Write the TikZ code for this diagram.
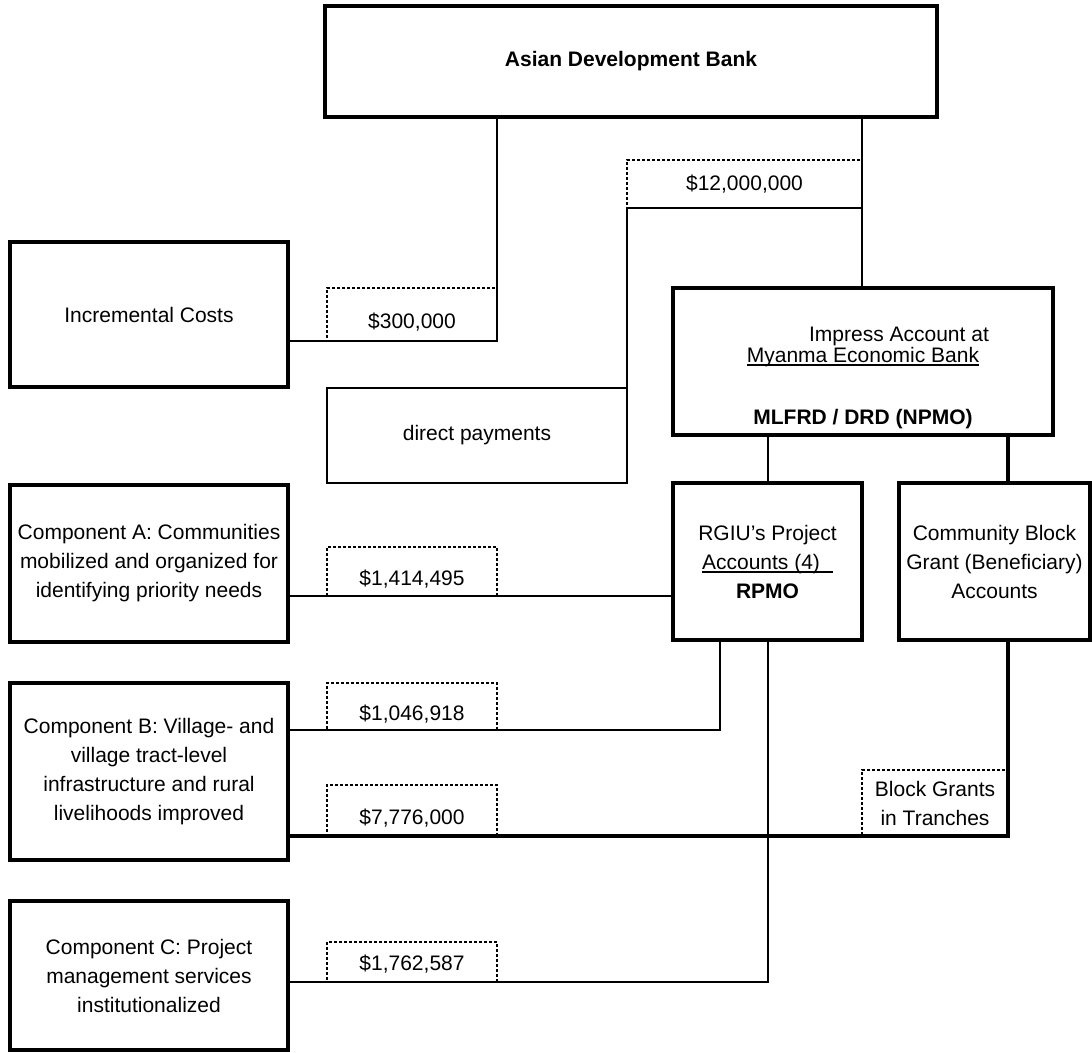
\documentclass[tikz,border=0pt]{standalone}
\usepackage{fontspec}
\setmainfont{Liberation Sans}
\usetikzlibrary{positioning}
\newcommand{\undl}[1]{\setbox0\hbox{#1}\rlap{\rule[-1.8pt]{\wd0}{0.7pt}}\box0}

\begin{document}
\begin{tikzpicture}[x=0.5pt, y=-0.5pt,
   every node/.style={font=\fontsize{10.5}{14.5}\selectfont, inner sep=0pt, outer sep=0pt},
   box/.style={draw, line width=2pt, align=center},
   thinbox/.style={draw, line width=1pt, align=center},
   tag/.style={draw, line width=0.6pt, dash pattern=on 1.5pt off 1pt},
   amount/.style={tag, minimum width=85pt, text height=13.6pt, text depth=0pt},
   link/.style={line width=1pt},
   heavylink/.style={line width=2pt}]
   \useasboundingbox (0,0) rectangle (1092,1053);

   \node[box, minimum width=306pt, minimum height=55.5pt,
         font=\fontsize{10.5}{14.5}\selectfont\bfseries] (adb) at (631,61.5) {Asian Development Bank};
   \node[box, minimum width=139pt, minimum height=72.5pt] (incr) at (149,314.5) {Incremental Costs};
   \node[box, minimum width=190pt, minimum height=73.5pt] (imp) at (863,361.5) {};
   \node[align=center, font=\fontsize{10.5}{10.4}\selectfont] (impText) at (863,378)
        {\hspace*{36pt}Impress Account at\\ \undl{Myanma Economic Bank}\\[20.8pt] \textbf{MLFRD / DRD (NPMO)}};
   \node[thinbox, minimum width=150pt, minimum height=47.5pt] (direct) at (477,435.5) {direct payments};
   \node[box, minimum width=94.5pt, minimum height=78.5pt] (rgiu) at (767.5,561.5)
        {RGIU's Project\\ \undl{Accounts (4)\hspace{6.5pt}}\hspace*{-6.5pt}\\ \textbf{RPMO}};
   \node[box, minimum width=95.5pt, minimum height=78.5pt] (comm) at (994.5,561.5)
        {Community Block\\Grant (Beneficiary)\\Accounts};
   \node[box, minimum width=139pt, minimum height=78.5pt] (compa) at (149,563.5)
        {Component A: Communities\\mobilized and organized for\\identifying priority needs};
   \node[box, minimum width=139pt, minimum height=88.5pt] (compb) at (149,771.5)
        {Component B: Village- and\\village tract-level\\infrastructure and rural\\livelihoods improved};
   \node[box, minimum width=139pt, minimum height=74.5pt] (compc) at (149,975.5)
        {Component C: Project\\management services\\institutionalized};

   \node[tag, minimum width=117.5pt, minimum height=24pt] (l12m) at (744.5,184) {\$12,000,000\hspace{25.5pt}};
   \node[amount, minimum height=26.5pt] (l300) at (412,314.5) {\$300,000};
   \node[amount, minimum height=24.5pt] (la) at (412,571.5) {\$1,414,495};
   \node[amount, minimum height=23.5pt] (lb1) at (412,706.5) {\$1,046,918};
   \node[amount, minimum height=25.5pt] (lb2) at (412,810.5) {\$7,776,000};
   \node[amount, minimum height=20pt, text height=8.6pt] (lc) at (412,962) {\$1,762,587};
   \node[tag, align=center, minimum width=73pt, minimum height=33pt] (lgrant) at (935,803)
        {Block Grants\\in Tranches};

   \coordinate (rgiuB) at ([xshift=-23.75pt]rgiu.south);

   \draw[link] (adb.south -| l300.east) |- (incr.east |- l300.south);
   \draw[link] (adb.south -| l12m.east) -- (imp.north -| l12m.east);
   \draw[link] (l12m.south east) -- (l12m.south west) -- (direct.north east);
   \draw[link] (imp.south -| rgiu.north) -- (rgiu.north);
   \draw[heavylink] (imp.south -| lgrant.east) -- (comm.north -| lgrant.east);
   \draw[link] (compa.east |- la.south) -- (rgiu.west |- la.south);
   \draw[link] (compb.east |- lb1.south) -| (rgiuB);
   \draw[heavylink] (compb.east |- lb2.south) -| (comm.south -| lgrant.east);
   \draw[link] (compc.east |- lc.south) -| (rgiu.south);

\end{tikzpicture}
\end{document}
